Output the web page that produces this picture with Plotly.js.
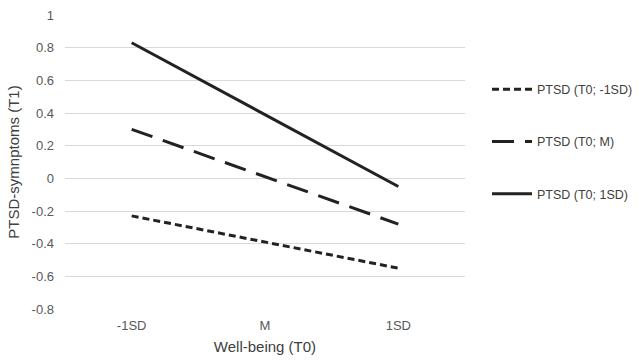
<!DOCTYPE html>
<html>
<head>
<meta charset="utf-8">
<script src="https://cdn.plot.ly/plotly-3.0.1.min.js"></script>
<style>html,body{margin:0;padding:0;background:#fff;}#chart{width:639px;height:361px;}</style>
</head>
<body>
<div id="chart"></div>
<script>
const categories = ["-1SD", "M", "1SD"];
const seriesNames = ["PTSD (T0; -1SD)", "PTSD (T0; M)", "PTSD (T0; 1SD)"];
const lowPTSD = [-0.23, -0.39, -0.55];
const meanPTSD = [0.30, 0.01, -0.28];
const highPTSD = [0.83, 0.39, -0.05];
const yTicks = [-0.8, -0.6, -0.4, -0.2, 0, 0.2, 0.4, 0.6, 0.8, 1];

const dashes = ["7px,4px", "22px,11px", "solid"];
const values = [lowPTSD, meanPTSD, highPTSD];
const traces = values.map((v, i) => ({
  x: categories, y: v, type: "scatter", mode: "lines",
  name: seriesNames[i], legendgroup: "g" + i,
  line: {color: "#222222", width: 3, dash: dashes[i]}
}));

const layout = {
  width: 639, height: 361,
  margin: {l: 65, r: 174, t: 15, b: 52, autoexpand: false},
  paper_bgcolor: "#fff", plot_bgcolor: "#fff",
  font: {family: "Liberation Sans, Arial, sans-serif", color: "#595959", size: 13},
  xaxis: {
    type: "category", range: [-0.5, 2.5],
    showgrid: false, showline: false, zeroline: false,
    ticks: "", tickfont: {size: 13, color: "#595959"}, ticklabelstandoff: 7,
    title: {text: "Well-being (T0)", font: {size: 15, color: "#404040"}, standoff: 9}
  },
  yaxis: {
    range: [-0.8, 1], tickvals: yTicks, ticktext: yTicks.map(String),
    showgrid: true, gridcolor: "#d9d9d9", gridwidth: 1,
    zeroline: true, zerolinecolor: "#d9d9d9", zerolinewidth: 1,
    showline: false, ticks: "", tickfont: {size: 13, color: "#595959"}, ticklabelstandoff: 10,
    title: {text: "PTSD-symnptoms (T1)", font: {size: 15, color: "#404040"}, standoff: 8}
  },
  showlegend: true,
  legend: {
    x: 1.055, xanchor: "left", y: 0.797, yanchor: "top",
    font: {size: 12.5, color: "#404040"},
    itemwidth: 40,
    tracegroupgap: 33, bgcolor: "rgba(0,0,0,0)"
  }
};
Plotly.newPlot("chart", traces, layout, {displayModeBar: false, staticPlot: true});
</script>
</body>
</html>
